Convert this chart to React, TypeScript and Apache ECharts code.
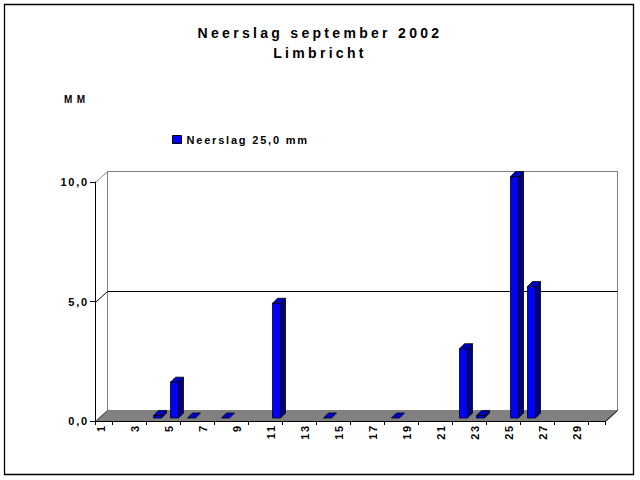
import React, { useEffect, useRef } from 'react';
import * as echarts from 'echarts';

const days = ['1','2','3','4','5','6','7','8','9','10','11','12','13','14','15','16','17','18','19','20','21','22','23','24','25','26','27','28','29','30'];
const rainfall: (number | null)[] = [null, null, null, 0.1, 1.5, 0, null, 0, null, null, 4.8, null, null, 0, null, null, null, 0, null, null, null, 2.9, 0.1, null, 10.1, 5.5, null, null, null, null];
const yTicks = [0, 5, 10];
const titleLines = ['Neerslag september 2002', 'Limbricht'];
const legendLabel = 'Neerslag 25,0 mm';
const unitLabel = 'MM';

const FONT = 'Liberation Sans';
const DX = 12;
const DY = 11;
const BAR_OFF = 3;
const BAR_HALF = 4;
const BAR_DEPTH = 5;

const css = `
#root svg text[style*="14px"] { letter-spacing: 3.3px; }
#root svg text[style*="11px"] { letter-spacing: 1.8px; }
#root svg text[style*=" 10px"], #root svg text[style*=":10px"] { letter-spacing: 4.5px; }
`;

const r = (v: number) => Math.round(v) + 0.5;

export default function App() {
  const ref = useRef<HTMLDivElement>(null);
  useEffect(() => {
    if (!ref.current) return;
    const chart = echarts.init(ref.current, null, { renderer: 'svg' });
    const barData = rainfall
      .map((v, i) => (v === null ? null : [i, v]))
      .filter((d) => d !== null) as number[][];
    const yMin = yTicks[0];
    const yMax = yTicks[yTicks.length - 1];

    const option: any = {
      animation: false,
      backgroundColor: '#fff',
      title: {
        text: titleLines.join('\n'),
        left: 'center',
        top: 23,
        padding: [0, 0, 0, 4],
        textStyle: { fontSize: 14, fontWeight: 'bold', fontFamily: FONT, color: '#000', lineHeight: 20 },
      },
      legend: {
        left: 172,
        top: 134,
        padding: 0,
        itemWidth: 9,
        itemHeight: 8,
        selectedMode: false,
        textStyle: { fontSize: 11, fontWeight: 'bold', fontFamily: FONT, color: '#000' },
        data: [{ name: legendLabel, icon: 'rect', itemStyle: { color: '#0000ff', borderColor: '#000', borderWidth: 1 } }],
      },
      grid: { left: 95, right: 35, top: 182, bottom: 59 },
      xAxis: {
        type: 'category',
        data: days,
        boundaryGap: true,
        z: 10,
        axisLine: { show: true, lineStyle: { color: '#000', width: 1 } },
        axisTick: {
          show: true,
          length: 4,
          interval: (i: number) => i % 2 === 1 || i === 0,
          lineStyle: { color: '#000' },
        },
        axisLabel: {
          interval: 1,
          rotate: 90,
          margin: 3,
          fontSize: 11,
          fontWeight: 'bold',
          fontFamily: FONT,
          color: '#000',
          verticalAlign: 'bottom',
          lineHeight: 6,
        },
        splitLine: { show: false },
      },
      yAxis: {
        type: 'value',
        min: yMin,
        max: yMax,
        interval: yTicks[1] - yTicks[0],
        z: 10,
        axisLine: { show: true, lineStyle: { color: '#000', width: 1 } },
        axisTick: { show: true, length: 5, inside: false, lineStyle: { color: '#000' } },
        axisLabel: {
          margin: 6,
          fontSize: 11,
          fontWeight: 'bold',
          fontFamily: FONT,
          color: '#000',
          formatter: (v: number) => v.toFixed(1).replace('.', ','),
        },
        splitLine: { show: false },
      },
      graphic: [
        {
          type: 'rect',
          shape: { x: 4.5, y: 4.5, width: 629, height: 470 },
          style: { fill: 'none', stroke: '#000', lineWidth: 1.3 },
          z: 100,
        },
        {
          type: 'text',
          x: 64,
          y: 99,
          style: { text: unitLabel, fontSize: 10, fontWeight: 'bold', fontFamily: FONT, fill: '#000', verticalAlign: 'middle' },
        },
      ],
      series: [
        {
          type: 'custom',
          name: 'frame',
          z: 1,
          silent: true,
          clip: false,
          data: [[0, 0]],
          encode: { x: 0, y: 1 },
          renderItem: (params: any, api: any) => {
            const bw = api.size([1, 0])[0];
            const p0 = api.coord([0, yMin]);
            const xl = r(p0[0] - bw / 2);
            const xr = r(api.coord([days.length - 1, yMin])[0] + bw / 2);
            const y0 = r(p0[1]);
            const yTop = r(api.coord([0, yMax])[1]);
            const children: any[] = [];
            children.push({
              type: 'polygon',
              shape: { points: [[xl + DX, yTop - DY], [xr + DX, yTop - DY], [xr + DX, y0 - DY], [xl + DX, y0 - DY]] },
              style: { fill: '#fff', stroke: '#808080', lineWidth: 1 },
            });
            children.push({
              type: 'polygon',
              shape: { points: [[xl, y0], [xl + DX, y0 - DY], [xr + DX, y0 - DY], [xr, y0]] },
              style: { fill: '#808080', stroke: '#808080', lineWidth: 1 },
            });
            children.push({
              type: 'line',
              shape: { x1: xr, y1: y0, x2: xr + DX, y2: y0 - DY },
              style: { stroke: '#000', lineWidth: 1 },
            });
            children.push({
              type: 'line',
              shape: { x1: xl, y1: y0, x2: xl + DX, y2: y0 - DY },
              style: { stroke: '#404040', lineWidth: 1 },
            });
            yTicks.forEach((v) => {
              if (v === yMin) return;
              const y = r(api.coord([0, v])[1]);
              children.push({
                type: 'polyline',
                shape: { points: [[xl, y], [xl + DX, y - DY], [xr + DX, y - DY]] },
                style: { stroke: v === yMax ? '#808080' : '#000', lineWidth: 1, fill: 'none' },
              });
            });
            return { type: 'group', children };
          },
        },
        {
          type: 'custom',
          name: legendLabel,
          z: 3,
          clip: false,
          itemStyle: { color: '#0000ff' },
          data: barData,
          encode: { x: 0, y: 1 },
          renderItem: (params: any, api: any) => {
            const i = api.value(0);
            const v = api.value(1);
            const pb = api.coord([i, 0]);
            const yt0 = api.coord([i, v])[1];
            const cx = pb[0];
            const xl = cx + BAR_OFF - BAR_HALF;
            const xrr = cx + BAR_OFF + BAR_HALF;
            const yb = pb[1] - BAR_OFF;
            const yt = yt0 - BAR_OFF;
            const d = BAR_DEPTH;
            const stroke = { stroke: '#000', lineWidth: 0.8 };
            const children: any[] = [];
            if (yb - yt > 0.5) {
              children.push({
                type: 'polygon',
                shape: { points: [[xl, yt], [xrr, yt], [xrr, yb], [xl, yb]] },
                style: { fill: '#0000ff', ...stroke },
              });
              children.push({
                type: 'polygon',
                shape: { points: [[xrr, yt], [xrr + d, yt - d], [xrr + d, yb - d], [xrr, yb]] },
                style: { fill: '#000080', ...stroke },
              });
            }
            children.push({
              type: 'polygon',
              shape: { points: [[xl, yt], [xrr, yt], [xrr + d, yt - d], [xl + d, yt - d]] },
              style: { fill: '#0000cc', ...stroke },
            });
            return { type: 'group', children };
          },
        },
      ],
    };
    chart.setOption(option);
    return () => chart.dispose();
  }, []);
  return (
    <>
      <style>{css}</style>
      <div ref={ref} style={{ position: 'absolute', left: 0, top: 0, width: 640, height: 480 }} />
    </>
  );
}
